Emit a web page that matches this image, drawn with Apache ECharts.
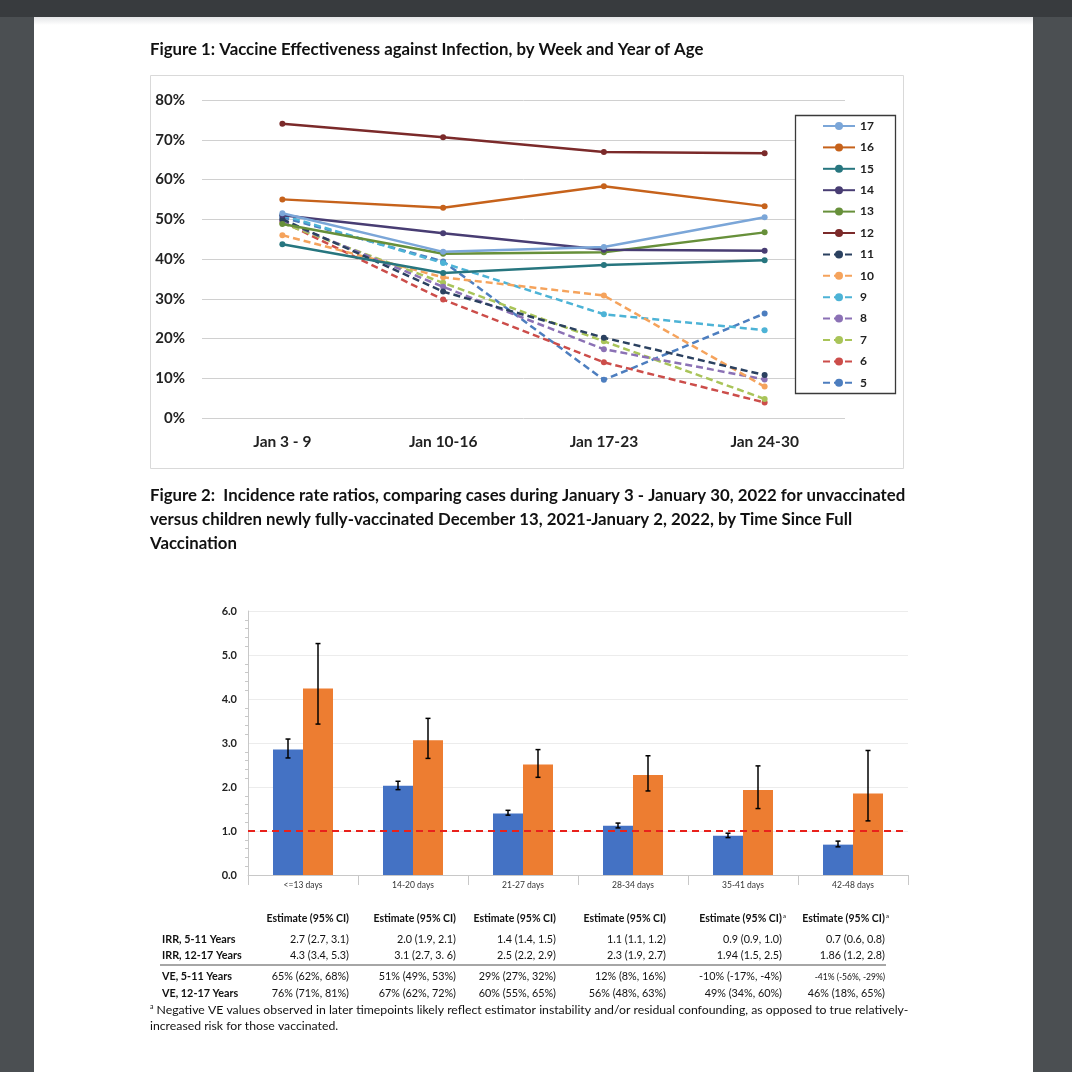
<!DOCTYPE html>
<html><head><meta charset="utf-8">
<script src="https://cdn.jsdelivr.net/npm/echarts@6/dist/echarts.min.js"></script>
<style>
html,body{margin:0;padding:0;width:1072px;height:1072px;overflow:hidden;background:#4b4f52;}
#top{position:absolute;left:0;top:0;width:1072px;height:17px;background:#383b3e;}
#page{position:absolute;left:34px;top:17px;width:999px;height:1055px;background:#fff;}
#shadow{position:absolute;left:34px;top:17px;width:999px;height:8px;background:linear-gradient(#e4e5e7,#fff);}
#c{position:absolute;left:0;top:0;width:1072px;height:1072px;}
</style></head>
<body><div id="top"></div><div id="page"></div><div id="shadow"></div><div id="c"></div>
<script>
// ---------- Figure 1 data ----------
const weeks = ['Jan 3 - 9', 'Jan 10-16', 'Jan 17-23', 'Jan 24-30'];
const ages = ['17','16','15','14','13','12','11','10','9','8','7','6','5'];
const ve17 = [51.5, 41.8, 43.0, 50.5];
const ve16 = [55.0, 52.9, 58.3, 53.3];
const ve15 = [43.7, 36.5, 38.5, 39.7];
const ve14 = [51.0, 46.5, 42.3, 42.1];
const ve13 = [48.8, 41.3, 41.7, 46.7];
const ve12 = [74.0, 70.6, 66.9, 66.6];
const ve11 = [50.0, 31.8, 20.2, 10.8];
const ve10 = [46.0, 35.4, 30.8, 7.9];
const ve9  = [51.0, 39.0, 26.1, 22.1];
const ve8  = [49.6, 33.0, 17.3, 9.7];
const ve7  = [49.0, 34.0, 19.3, 4.8];
const ve6  = [49.4, 29.8, 14.0, 3.9];
const ve5  = [50.5, 39.4, 9.6, 26.3];

// ---------- Figure 2 data ----------
const periods = ['<=13 days', '14-20 days', '21-27 days', '28-34 days', '35-41 days', '42-48 days'];
const irr511  = [2.85, 2.03, 1.40, 1.12, 0.89, 0.69];
const irr511Lo = [2.66, 1.94, 1.36, 1.07, 0.85, 0.64];
const irr511Hi = [3.09, 2.13, 1.47, 1.18, 0.95, 0.77];
const irr1217 = [4.24, 3.06, 2.51, 2.27, 1.93, 1.85];
const irr1217Lo = [3.43, 2.65, 2.22, 1.91, 1.51, 1.23];
const irr1217Hi = [5.26, 3.56, 2.85, 2.71, 2.48, 2.83];
const refLine = 1.0;

// ---------- Table ----------
const colHeader = 'Estimate (95% CI)';
const headerSup = ['', '', '', '', 'a', 'a'];
const rowLabels = ['IRR, 5-11 Years', 'IRR, 12-17 Years', 'VE, 5-11 Years', 'VE, 12-17 Years'];
const tIrr511  = ['2.7 (2.7, 3.1)', '2.0 (1.9, 2.1)', '1.4 (1.4, 1.5)', '1.1 (1.1, 1.2)', '0.9 (0.9, 1.0)', '0.7 (0.6, 0.8)'];
const tIrr1217 = ['4.3 (3.4, 5.3)', '3.1 (2.7, 3. 6)', '2.5 (2.2, 2.9)', '2.3 (1.9, 2.7)', '1.94 (1.5, 2.5)', '1.86 (1.2, 2.8)'];
const tVe511   = ['65% (62%, 68%)', '51% (49%, 53%)', '29% (27%, 32%)', '12% (8%, 16%)', '-10% (-17%, -4%)', '-41% (-56%, -29%)'];
const tVe1217  = ['76% (71%, 81%)', '67% (62%, 72%)', '60% (55%, 65%)', '56% (48%, 63%)', '49% (34%, 60%)', '46% (18%, 65%)'];
const title1 = 'Figure 1: Vaccine Effectiveness against Infection, by Week and Year of Age';
const title2 = ['Figure 2:  Incidence rate ratios, comparing cases during January 3 - January 30, 2022 for unvaccinated',
                'versus children newly fully-vaccinated December 13, 2021-January 2, 2022, by Time Since Full',
                'Vaccination'];
const foot = ['Negative VE values observed in later timepoints likely reflect estimator instability and/or residual confounding, as opposed to true relatively-',
              'increased risk for those vaccinated.'];

const FONT = 'Lato, "Open Sans", sans-serif';
const lineSets = [ve17, ve16, ve15, ve14, ve13, ve12, ve11, ve10, ve9, ve8, ve7, ve6, ve5];
const colors = ['#7ba6d8', '#c6621b', '#27767f', '#483d73', '#67903a', '#7b2a2a',
                '#2b4160', '#f5a35c', '#4db3d6', '#8b71b5', '#a9c459', '#cc4d4a', '#4d7ebf'];

const lineSeries = lineSets.map((d, i) => ({
  name: ages[i], type: 'line', xAxisIndex: 0, yAxisIndex: 0, data: d,
  symbol: 'circle', symbolSize: 6, color: colors[i],
  lineStyle: { width: 2.5, type: i >= 6 ? [7, 4] : 'solid' },
  emphasis: { disabled: true }, z: 20 - i
}));

function errBar(offset, lo, hi) {
  return {
    type: 'custom', xAxisIndex: 1, yAxisIndex: 1, z: 10,
    data: periods.map((p, i) => [i, lo[i], hi[i]]),
    renderItem: function (params, api) {
      const a = api.coord([api.value(0), api.value(1)]);
      const b = api.coord([api.value(0), api.value(2)]);
      const x = a[0] + offset;
      const st = { stroke: '#000', lineWidth: 1.5 };
      return { type: 'group', children: [
        { type: 'line', shape: { x1: x, y1: a[1], x2: x, y2: b[1] }, style: st },
        { type: 'line', shape: { x1: x - 2.5, y1: a[1], x2: x + 2.5, y2: a[1] }, style: st },
        { type: 'line', shape: { x1: x - 2.5, y1: b[1], x2: x + 2.5, y2: b[1] }, style: st }
      ] };
    }
  };
}

// graphic texts
const g = [];
g.push({ type: 'rect', shape: { x: 150.5, y: 75.5, width: 753, height: 393 }, style: { fill: 'none', stroke: '#d9d9d9', lineWidth: 1 }, z: 0 });
g.push({ type: 'rect', shape: { x: 795.5, y: 115.5, width: 100, height: 278 }, style: { fill: '#fff', stroke: '#3a3a3a', lineWidth: 1.3 }, z: 1 });
g.push({ type: 'text', x: 150, y: 50, style: { text: title1, font: 'bold 16.8px ' + FONT, fill: '#111', verticalAlign: 'middle' } });
title2.forEach((t, i) => g.push({ type: 'text', x: 150, y: 496 + i * 24, style: { text: t, font: 'bold 16.8px ' + FONT, fill: '#111', verticalAlign: 'middle' } }));
const colRight = [349, 456, 556, 666, 782, 885];
colRight.forEach((r, j) => {
  g.push({ type: 'text', x: r + (headerSup[j] ? 4 : 0), y: 919, style: {
    text: '{t|' + colHeader + '}' + (headerSup[j] ? '{s|' + headerSup[j] + '}' : ''),
    rich: { t: { font: 'bold 10.5px ' + FONT, fill: '#111' }, s: { font: '6.5px ' + FONT, fill: '#111', verticalAlign: 'top', padding: [0, 0, 6, 1] } },
    align: 'right', verticalAlign: 'middle' } });
});
const rowsY = [940, 956, 977, 994];
const rows = [tIrr511, tIrr1217, tVe511, tVe1217];
rowLabels.forEach((l, i) => {
  g.push({ type: 'text', x: 162, y: rowsY[i], style: { text: l, font: 'bold 10.8px ' + FONT, fill: '#111', verticalAlign: 'middle' } });
  rows[i].forEach((v, j) => {
    const small = (i === 2 && j === 5);
    g.push({ type: 'text', x: colRight[j], y: rowsY[i], style: { text: v, font: (small ? '8.5px ' : '10.8px ') + FONT, fill: '#111', align: 'right', verticalAlign: 'middle' } });
  });
});
g.push({ type: 'line', shape: { x1: 160, y1: 965, x2: 886, y2: 965 }, style: { stroke: '#a6a6a6', lineWidth: 2 } });
g.push({ type: 'text', x: 150, y: 1010, style: {
  text: '{s|a} ' + foot[0], rich: { s: { font: '7px ' + FONT, fill: '#111', verticalAlign: 'top', padding: [0, 0, 7, 0] } },
  font: '12.25px ' + FONT, fill: '#111', verticalAlign: 'middle' } });
g.push({ type: 'text', x: 150, y: 1026, style: { text: foot[1], font: '12.25px ' + FONT, fill: '#111', verticalAlign: 'middle' } });

const chart = echarts.init(document.getElementById('c'), null, { renderer: 'canvas' });
chart.setOption({
  animation: false,
  backgroundColor: 'transparent',
  textStyle: { fontFamily: FONT },
  graphic: { elements: g },
  legend: {
    data: ages, orient: 'vertical', left: 822, top: 120, padding: 0,
    itemWidth: 32, itemHeight: 10, itemGap: 9.4,
    textStyle: { fontSize: 12, fontWeight: 'bold', color: '#222' },
    selectedMode: false, z: 30
  },
  grid: [
    { left: 202, top: 100, width: 643, height: 318 },
    { left: 248, top: 611, width: 660, height: 264 }
  ],
  xAxis: [
    { type: 'category', gridIndex: 0, data: weeks, boundaryGap: true,
      axisLine: { show: false }, axisTick: { show: false },
      axisLabel: { margin: 16, fontSize: 15.5, fontWeight: 'bold', color: '#222' } },
    { type: 'category', gridIndex: 1, data: periods,
      axisLine: { lineStyle: { color: '#c8c8c8' } },
      axisTick: { show: true, length: 10, lineStyle: { color: '#c8c8c8' } },
      axisLabel: { margin: 6, fontSize: 8.5, color: '#333' } }
  ],
  yAxis: [
    { type: 'value', gridIndex: 0, min: 0, max: 80, interval: 10,
      axisLine: { show: false }, axisTick: { show: false },
      splitLine: { lineStyle: { color: '#d0d0d0', width: 1 } },
      axisLabel: { margin: 17, fontSize: 15, fontWeight: 'bold', color: '#222', formatter: v => v + '%' } },
    { type: 'value', gridIndex: 1, min: 0, max: 6, interval: 1,
      axisLine: { show: true, lineStyle: { color: '#c8c8c8' } },
      axisTick: { show: false },
      minorTick: { show: true, splitNumber: 5, length: 3, lineStyle: { color: '#c8c8c8' } },
      splitLine: { lineStyle: { color: '#ececec' } },
      axisLabel: { margin: 11, fontSize: 11, fontWeight: 'bold', color: '#222', formatter: v => v.toFixed(1) } }
  ],
  series: lineSeries.concat([
    { name: 'IRR 5-11', type: 'bar', xAxisIndex: 1, yAxisIndex: 1, data: irr511, barWidth: 30, barGap: '0%', color: '#4472c4',
      markLine: { silent: true, symbol: 'none', label: { show: false }, data: [{ yAxis: refLine }],
        lineStyle: { color: '#e8211b', type: [7, 5], width: 2 }, z: 15 } },
    { name: 'IRR 12-17', type: 'bar', xAxisIndex: 1, yAxisIndex: 1, data: irr1217, barWidth: 30, barGap: '0%', color: '#ed7d31' },
    errBar(-15, irr511Lo, irr511Hi),
    errBar(15, irr1217Lo, irr1217Hi)
  ])
});
</script></body></html>
